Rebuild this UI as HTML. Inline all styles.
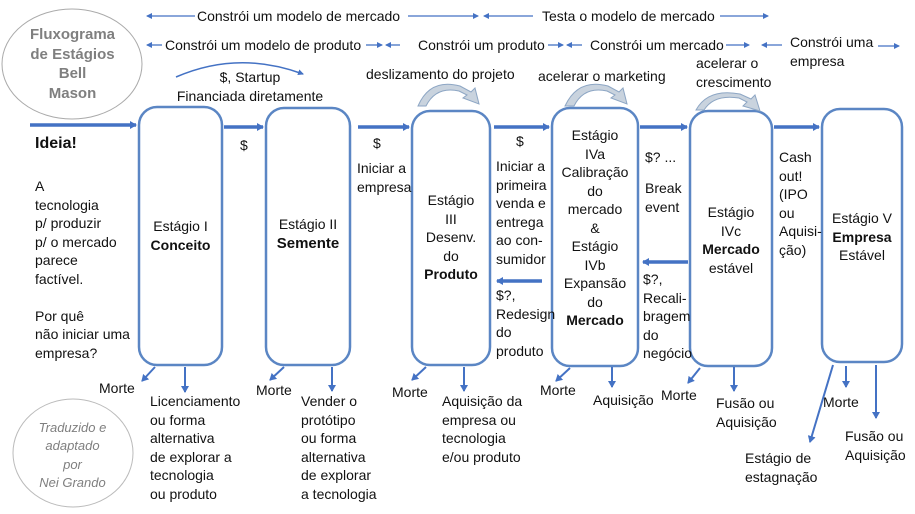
<!DOCTYPE html>
<html><head><meta charset="utf-8">
<style>
html,body{margin:0;padding:0;background:#fff;}
#w{position:relative;width:915px;height:514px;overflow:hidden;font-family:"Liberation Sans",sans-serif;font-size:14px;color:#111;line-height:18.5px;}
.t{position:absolute;white-space:nowrap;}
.c{position:absolute;text-align:center;white-space:nowrap;}
svg{position:absolute;left:0;top:0;}
b{font-weight:bold;}
.g{color:#7f7f7f;}
</style></head><body><div id="w">
<svg width="915" height="514" viewBox="0 0 915 514">
<defs>
<marker id="a" markerWidth="8" markerHeight="8" refX="6" refY="4" orient="auto" markerUnits="userSpaceOnUse"><path d="M0,0 L7,4 L0,8 z" fill="#4472c4"/></marker>
<marker id="s" markerWidth="6" markerHeight="6" refX="5" refY="3" orient="auto" markerUnits="userSpaceOnUse"><path d="M0,0 L6,3 L0,6 z" fill="#4472c4"/></marker>
</defs>
<ellipse cx="72" cy="64" rx="70" ry="55" fill="#fff" stroke="#aaa" stroke-width="1"/>
<ellipse cx="73" cy="453" rx="60" ry="54" fill="#fff" stroke="#bbb" stroke-width="1"/>
<g fill="#fff" stroke="#5b86c4" stroke-width="2.5">
<rect x="139" y="107" width="83" height="258" rx="18"/>
<rect x="266" y="108" width="84" height="257" rx="18"/>
<rect x="412" y="111" width="78" height="254" rx="18"/>
<rect x="552" y="108" width="86" height="258" rx="18"/>
<rect x="690" y="111" width="82" height="255" rx="18"/>
<rect x="822" y="109" width="80" height="253" rx="18"/>
</g>
<g stroke="#4472c4" stroke-width="3.5" fill="none" marker-end="url(#a)">
<line x1="30" y1="125" x2="136" y2="125"/>
<line x1="224" y1="127" x2="263" y2="127"/>
<line x1="358" y1="127" x2="409" y2="127"/>
<line x1="494" y1="127" x2="549" y2="127"/>
<line x1="640" y1="127" x2="687" y2="127"/>
<line x1="774" y1="127" x2="819" y2="127"/>
<line x1="688" y1="262" x2="643" y2="262"/>
<line x1="542" y1="281" x2="497" y2="281"/>
</g>
<g stroke="#4472c4" stroke-width="1.3" fill="none" marker-end="url(#s)">
<line x1="195" y1="16" x2="147" y2="16"/>
<line x1="408" y1="16" x2="478" y2="16"/>
<line x1="533" y1="16" x2="484" y2="16"/>
<line x1="720" y1="16" x2="768" y2="16"/>
<line x1="162" y1="45" x2="147" y2="45"/>
<line x1="366" y1="45" x2="382" y2="45"/>
<line x1="400" y1="45" x2="386" y2="45"/>
<line x1="548" y1="45" x2="563" y2="45"/>
<line x1="582" y1="45" x2="567" y2="45"/>
<line x1="726" y1="45" x2="749" y2="45"/>
<line x1="782" y1="45" x2="762" y2="45"/>
<line x1="878" y1="46" x2="899" y2="46"/>
</g>
<path d="M176,77 Q238,50 303,74" stroke="#4472c4" stroke-width="1.5" fill="none" marker-end="url(#s)"/>
<g fill="#c9d3de" stroke="#8da6c4" stroke-width="1">
<path d="M418,106 Q430,78 460,86 L471,92 L475,88 L479,104 L463,98 L467,95 L459,91 Q436,86 426,106 z"/>
<path d="M565,106 Q578,78 608,86 L619,92 L623,88 L627,104 L611,98 L615,95 L607,91 Q584,86 574,106 z"/>
<path d="M696,110 Q708,88 740,94 L751,99 L755,95 L760,111 L743,106 L747,102 L739,98 Q714,94 704,110 z"/>
</g>
<g stroke="#4472c4" stroke-width="2" fill="none" marker-end="url(#a)">
<line x1="155" y1="367" x2="142" y2="381"/>
<line x1="185" y1="367" x2="185" y2="392"/>
<line x1="284" y1="367" x2="270" y2="380"/>
<line x1="332" y1="367" x2="332" y2="391"/>
<line x1="426" y1="367" x2="412" y2="380"/>
<line x1="464" y1="367" x2="464" y2="391"/>
<line x1="570" y1="368" x2="556" y2="381"/>
<line x1="612" y1="367" x2="612" y2="387"/>
<line x1="700" y1="368" x2="688" y2="383"/>
<line x1="734" y1="367" x2="734" y2="391"/>
<line x1="833" y1="365" x2="810" y2="442"/>
<line x1="846" y1="366" x2="846" y2="387"/>
<line x1="876" y1="365" x2="876" y2="418"/>
</g>
</svg>

<div class="c g" style="left:15px;top:25px;width:115px;font-size:15px;font-weight:bold;line-height:19.5px;">Fluxograma<br>de Estágios<br>Bell<br>Mason</div>
<div class="c g" style="left:20px;top:419px;width:105px;font-style:italic;font-size:13px;line-height:18.3px;">Traduzido e<br>adaptado<br>por<br>Nei Grando</div>

<div class="t" style="left:197px;top:7px;">Constrói um modelo de mercado</div>
<div class="t" style="left:542px;top:7px;">Testa o modelo de mercado</div>
<div class="t" style="left:165px;top:36px;">Constrói um modelo de produto</div>
<div class="t" style="left:418px;top:36px;">Constrói um produto</div>
<div class="t" style="left:590px;top:36px;">Constrói um mercado</div>
<div class="t" style="left:790px;top:33px;">Constrói uma<br>empresa</div>
<div class="c" style="left:160px;top:68px;width:180px;">$, Startup<br>Financiada diretamente</div>
<div class="t" style="left:366px;top:65px;">deslizamento do projeto</div>
<div class="t" style="left:538px;top:67px;">acelerar o marketing</div>
<div class="t" style="left:696px;top:54px;">acelerar o<br>crescimento</div>

<div class="t" style="left:35px;top:135px;font-size:16px;font-weight:bold;">Ideia!</div>
<div class="t" style="left:35px;top:177px;">A<br>tecnologia<br>p/ produzir<br>p/ o mercado<br>parece<br>factível.<br><br>Por quê<br>não iniciar uma<br>empresa?</div>

<div class="c" style="left:139px;top:217px;width:83px;">Estágio I<br><b>Conceito</b></div>
<div class="c" style="left:266px;top:215px;width:84px;">Estágio II<br><b style="font-size:15px;">Semente</b></div>
<div class="c" style="left:412px;top:191px;width:78px;">Estágio<br>III<br>Desenv.<br>do<br><b>Produto</b></div>
<div class="c" style="left:552px;top:126px;width:86px;">Estágio<br>IVa<br>Calibração<br>do<br>mercado<br>&amp;<br>Estágio<br>IVb<br>Expansão<br>do<br><b>Mercado</b></div>
<div class="c" style="left:690px;top:203px;width:82px;">Estágio<br>IVc<br><b>Mercado</b><br>estável</div>
<div class="c" style="left:822px;top:209px;width:80px;">Estágio V<br><b>Empresa</b><br>Estável</div>

<div class="t" style="left:240px;top:136px;">$</div>
<div class="t" style="left:373px;top:134px;">$</div>
<div class="t" style="left:357px;top:159px;">Iniciar a<br>empresa</div>
<div class="t" style="left:516px;top:132px;">$</div>
<div class="t" style="left:496px;top:157px;">Iniciar a<br>primeira<br>venda e<br>entrega<br>ao con-<br>sumidor</div>
<div class="t" style="left:496px;top:286px;">$?,<br>Redesign<br>do<br>produto</div>
<div class="t" style="left:645px;top:148px;">$? ...</div>
<div class="t" style="left:645px;top:179px;">Break<br>event</div>
<div class="t" style="left:643px;top:270px;">$?,<br>Recali-<br>bragem<br>do<br>negócio</div>
<div class="t" style="left:779px;top:148px;">Cash<br>out!<br>(IPO<br>ou<br>Aquisi-<br>ção)</div>

<div class="t" style="left:99px;top:379px;">Morte</div>
<div class="t" style="left:150px;top:392px;">Licenciamento<br>ou forma<br>alternativa<br>de explorar a<br>tecnologia<br>ou produto</div>
<div class="t" style="left:256px;top:381px;">Morte</div>
<div class="t" style="left:301px;top:392px;">Vender o<br>protótipo<br>ou forma<br>alternativa<br>de explorar<br>a tecnologia</div>
<div class="t" style="left:392px;top:383px;">Morte</div>
<div class="t" style="left:442px;top:392px;">Aquisição da<br>empresa ou<br>tecnologia<br>e/ou produto</div>
<div class="t" style="left:540px;top:381px;">Morte</div>
<div class="t" style="left:593px;top:391px;">Aquisição</div>
<div class="t" style="left:661px;top:386px;">Morte</div>
<div class="t" style="left:716px;top:394px;">Fusão ou<br>Aquisição</div>
<div class="t" style="left:823px;top:393px;">Morte</div>
<div class="t" style="left:845px;top:427px;">Fusão ou<br>Aquisição</div>
<div class="t" style="left:745px;top:449px;">Estágio de<br>estagnação</div>
</div></body></html>
